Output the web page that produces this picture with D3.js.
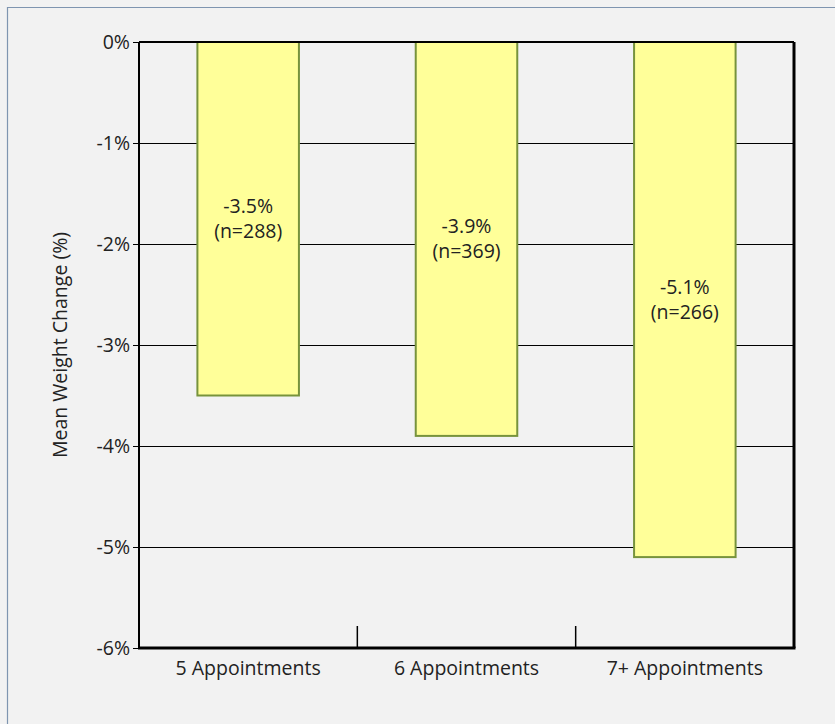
<!DOCTYPE html>
<html>
<head>
<meta charset="utf-8">
<script src="https://cdn.jsdelivr.net/npm/d3@7"></script>
<style>
  html, body { margin: 0; padding: 0; background: #f2f2f2; }
  svg { display: block; }
  text { font-family: "Open Sans", "DejaVu Sans", sans-serif; fill: #222; }
</style>
</head>
<body>
<svg id="chart" width="835" height="724"></svg>
<script>
// Mean weight change by number of appointments
const categories = ["5 Appointments", "6 Appointments", "7+ Appointments"];
const meanChange = [-3.5, -3.9, -5.1];
const sampleSizes = [288, 369, 266];
const yTicks = [0, -1, -2, -3, -4, -5, -6];
const yTitle = "Mean Weight Change (%)";

const svg = d3.select("#chart");
const W = 835, H = 724;
const margin = { top: 42, right: 41, bottom: 76, left: 139 };
const plotW = W - margin.left - margin.right;
const plotH = H - margin.top - margin.bottom;
const FS = 19.5;

// outer frame
svg.append("rect").attr("x", 0).attr("y", 0).attr("width", W).attr("height", H).attr("fill", "#f2f2f2");
svg.append("path").attr("d", `M7.5,${H} V7.5 H${W}`)
  .attr("fill", "none").attr("stroke", "#7f95b0").attr("stroke-width", 1.2);

const g = svg.append("g").attr("transform", `translate(${margin.left},${margin.top})`);

const x = d3.scaleBand().domain(categories).range([0, plotW]).padding(0);
const y = d3.scaleLinear().domain([-6, 0]).range([plotH, 0]);
const barW = x.bandwidth() * 0.465;

// horizontal gridlines
g.append("g").selectAll("line").data(yTicks.filter(t => t !== 0 && t !== -6)).join("line")
  .attr("x1", 0).attr("x2", plotW)
  .attr("y1", d => Math.round(y(d)) + 0.5).attr("y2", d => Math.round(y(d)) + 0.5)
  .attr("stroke", "#000").attr("stroke-width", 1);

// bars
g.append("g").selectAll("rect").data(meanChange).join("rect")
  .attr("x", (d, i) => x(categories[i]) + (x.bandwidth() - barW) / 2)
  .attr("y", y(0))
  .attr("width", barW)
  .attr("height", d => y(d) - y(0))
  .attr("fill", "#ffff99")
  .attr("stroke", "#77933c")
  .attr("stroke-width", 2);

// value labels inside bars
const lbl = g.append("g").selectAll("text").data(meanChange).join("text")
  .attr("text-anchor", "middle")
  .attr("font-size", FS)
  .attr("transform", (d, i) => `translate(${x(categories[i]) + x.bandwidth() / 2},${y(d / 2)})`);
lbl.append("tspan").attr("x", 0).attr("dy", "-0.3em").text(d => `${d.toFixed(1)}%`);
lbl.append("tspan").attr("x", 0).attr("dy", "1.3em").text((d, i) => `(n=${sampleSizes[i]})`);

// y axis
const yAxis = g.append("g")
  .call(d3.axisLeft(y).tickValues(yTicks).tickFormat(d => `${d}%`).tickSize(6).tickPadding(3));
yAxis.select(".domain").remove();
yAxis.selectAll("text").attr("font-size", FS).style("font-family", "'Open Sans', sans-serif").attr("fill", "#222");
yAxis.selectAll("line").attr("stroke", "#000");

// plot frame
g.append("line").attr("x1", 0).attr("x2", plotW).attr("y1", 0).attr("y2", 0).attr("stroke", "#000").attr("stroke-width", 2);
g.append("line").attr("x1", plotW).attr("x2", plotW).attr("y1", 0).attr("y2", plotH).attr("stroke", "#000").attr("stroke-width", 3);
g.append("line").attr("x1", 0).attr("x2", 0).attr("y1", 0).attr("y2", plotH).attr("stroke", "#000").attr("stroke-width", 2);
g.append("line").attr("x1", -1).attr("x2", plotW + 1.5).attr("y1", plotH).attr("y2", plotH).attr("stroke", "#000").attr("stroke-width", 3);

// category separators on bottom axis
g.append("g").selectAll("line").data(categories.slice(1)).join("line")
  .attr("x1", d => x(d)).attr("x2", d => x(d))
  .attr("y1", plotH - 22).attr("y2", plotH)
  .attr("stroke", "#000").attr("stroke-width", 1.5);

// category labels
g.append("g").selectAll("text").data(categories).join("text")
  .attr("x", d => x(d) + x.bandwidth() / 2)
  .attr("y", plotH + 20)
  .attr("dy", "0.35em")
  .attr("text-anchor", "middle")
  .attr("font-size", FS)
  .text(d => d);

// y axis title
svg.append("text")
  .attr("transform", `translate(60,${margin.top + plotH / 2}) rotate(-90)`)
  .attr("text-anchor", "middle")
  .attr("dy", "0.35em")
  .attr("font-size", FS)
  .text(yTitle);
</script>
</body>
</html>
